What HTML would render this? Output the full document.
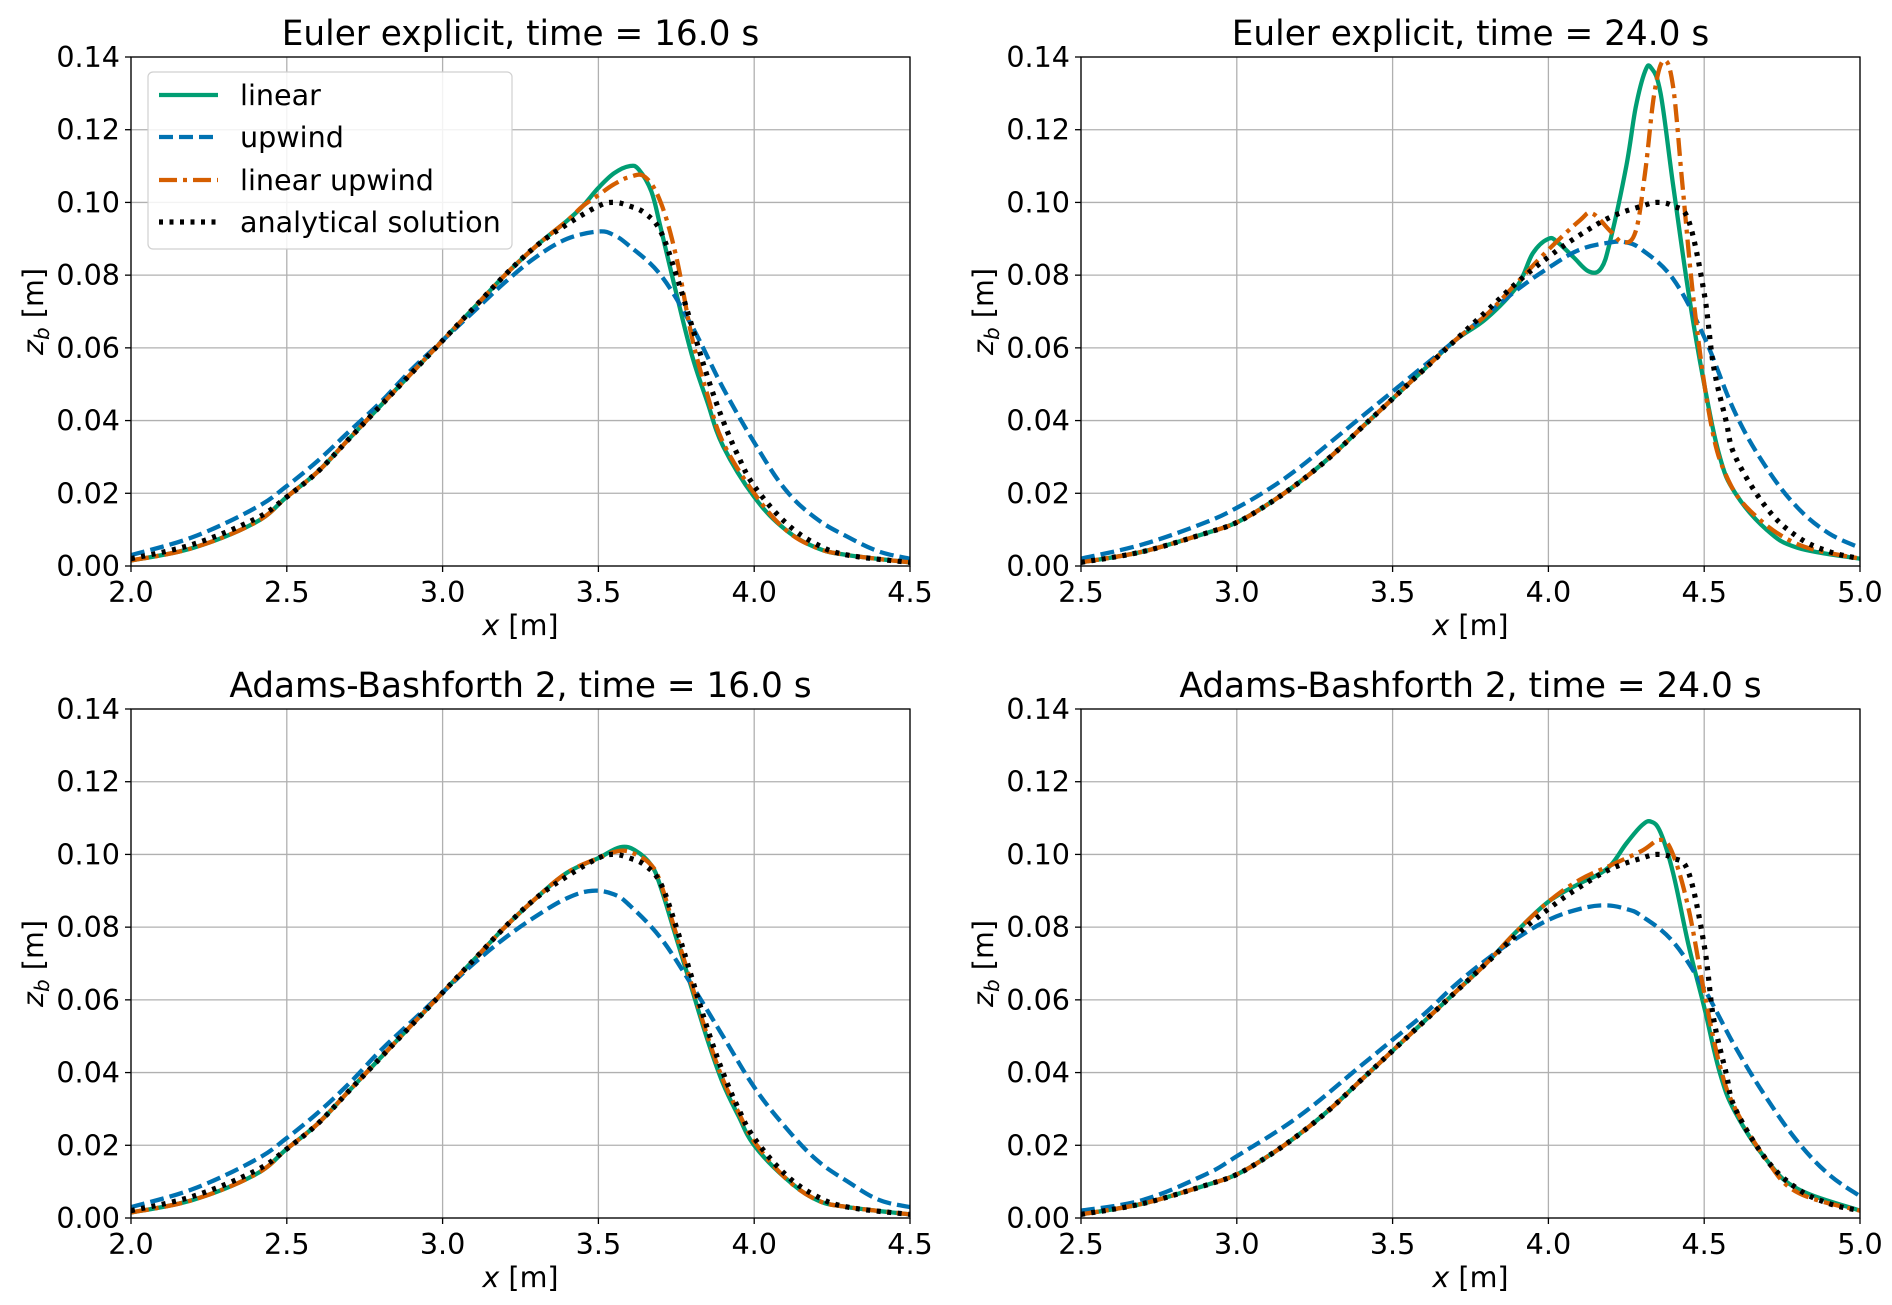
<!DOCTYPE html>
<html><head><meta charset="utf-8"><style>
html,body{margin:0;padding:0;background:#fff;}
svg{display:block;font-family:"DejaVu Sans","Liberation Sans",sans-serif;}
</style></head><body>
<svg id="fig" width="1892" height="1305" viewBox="0 0 1892 1305" xmlns="http://www.w3.org/2000/svg"></svg>
<script>
// ---- data ----
const yTicks = [0, 0.02, 0.04, 0.06, 0.08, 0.10, 0.12, 0.14];
const yTickLabels = ["0.00","0.02","0.04","0.06","0.08","0.10","0.12","0.14"];
const xTicksA = [2.0, 2.5, 3.0, 3.5, 4.0, 4.5];
const xTicksB = [2.5, 3.0, 3.5, 4.0, 4.5, 5.0];
const titles = ["Euler explicit, time = 16.0 s","Euler explicit, time = 24.0 s","Adams-Bashforth 2, time = 16.0 s","Adams-Bashforth 2, time = 24.0 s"];
const seriesNames = ["linear","upwind","linear upwind","analytical solution"];

// Panel 1: Euler t=16
const p1AnaX = [2.0,2.2,2.4,2.5,2.6,2.7,2.8,2.9,3.0,3.1,3.2,3.3,3.4,3.5,3.55,3.6,3.65,3.7,3.75,3.8,3.85,3.9,3.95,4.0,4.1,4.2,4.3,4.5];
const p1AnaY = [0.002,0.006,0.013,0.019,0.026,0.035,0.044,0.053,0.062,0.071,0.080,0.088,0.094,0.099,0.100,0.099,0.097,0.092,0.080,0.066,0.052,0.040,0.030,0.022,0.012,0.006,0.003,0.001];
const p1LinX = [2.0,2.2,2.4,2.5,2.6,2.7,2.8,2.9,3.0,3.1,3.2,3.3,3.4,3.45,3.5,3.55,3.6,3.63,3.67,3.7,3.75,3.8,3.85,3.9,4.0,4.1,4.2,4.3,4.5];
const p1LinY = [0.0015,0.005,0.012,0.019,0.026,0.035,0.044,0.053,0.062,0.071,0.080,0.088,0.095,0.099,0.104,0.108,0.110,0.109,0.103,0.093,0.075,0.058,0.045,0.033,0.019,0.010,0.005,0.003,0.001];
const p1LuX = [2.0,2.2,2.4,2.5,2.6,2.7,2.8,2.9,3.0,3.1,3.2,3.3,3.4,3.45,3.5,3.55,3.6,3.65,3.7,3.75,3.8,3.85,3.9,4.0,4.1,4.2,4.3,4.5];
const p1LuY = [0.0015,0.005,0.012,0.019,0.026,0.035,0.044,0.053,0.062,0.071,0.080,0.088,0.095,0.099,0.102,0.105,0.107,0.107,0.100,0.085,0.063,0.047,0.034,0.020,0.010,0.005,0.003,0.001];
const p1UpX = [2.0,2.2,2.4,2.5,2.6,2.7,2.8,2.9,3.0,3.1,3.2,3.3,3.4,3.5,3.55,3.6,3.7,3.8,3.9,4.0,4.1,4.2,4.3,4.4,4.5];
const p1UpY = [0.003,0.008,0.016,0.022,0.029,0.037,0.045,0.054,0.062,0.070,0.078,0.085,0.090,0.092,0.091,0.088,0.080,0.066,0.049,0.034,0.021,0.013,0.008,0.004,0.002];

// Panel 2: Euler t=24
const p2AnaX = [2.5,2.7,2.9,3.0,3.1,3.2,3.3,3.4,3.5,3.6,3.7,3.8,3.9,4.0,4.1,4.2,4.3,4.35,4.4,4.45,4.5,4.53,4.57,4.6,4.7,4.8,4.9,5.0];
const p2AnaY = [0.001,0.004,0.009,0.012,0.017,0.023,0.030,0.038,0.046,0.054,0.062,0.070,0.078,0.085,0.091,0.096,0.099,0.100,0.099,0.095,0.075,0.055,0.040,0.030,0.016,0.008,0.004,0.002];
const p2LinX = [2.5,2.7,2.9,3.0,3.1,3.2,3.3,3.4,3.5,3.6,3.7,3.8,3.9,3.95,4.0,4.03,4.08,4.13,4.17,4.2,4.25,4.28,4.31,4.33,4.36,4.4,4.45,4.5,4.55,4.6,4.7,4.8,5.0];
const p2LinY = [0.001,0.004,0.009,0.012,0.017,0.023,0.030,0.038,0.046,0.054,0.062,0.068,0.077,0.086,0.090,0.089,0.085,0.081,0.082,0.090,0.110,0.126,0.136,0.137,0.130,0.105,0.075,0.050,0.030,0.020,0.010,0.005,0.002];
const p2LuX = [2.5,2.7,2.9,3.0,3.1,3.2,3.3,3.4,3.5,3.6,3.7,3.8,3.9,4.0,4.1,4.14,4.2,4.24,4.28,4.31,4.34,4.37,4.4,4.43,4.47,4.52,4.57,4.65,4.8,5.0];
const p2LuY = [0.001,0.004,0.009,0.012,0.017,0.023,0.030,0.038,0.046,0.054,0.062,0.069,0.078,0.087,0.095,0.097,0.092,0.089,0.092,0.108,0.130,0.139,0.132,0.105,0.070,0.040,0.025,0.015,0.006,0.002];
const p2UpX = [2.5,2.7,2.9,3.0,3.1,3.2,3.3,3.4,3.5,3.6,3.7,3.8,3.9,4.0,4.1,4.2,4.25,4.3,4.4,4.5,4.6,4.7,4.8,4.9,5.0];
const p2UpY = [0.002,0.006,0.012,0.016,0.021,0.027,0.034,0.041,0.048,0.055,0.062,0.069,0.076,0.082,0.087,0.089,0.089,0.087,0.079,0.063,0.042,0.027,0.016,0.009,0.005];

// Panel 3: AB2 t=16
const p3AnaX = p1AnaX;
const p3AnaY = p1AnaY;
const p3LinX = [2.0,2.2,2.4,2.5,2.6,2.7,2.8,2.9,3.0,3.1,3.2,3.3,3.4,3.5,3.57,3.62,3.67,3.7,3.75,3.8,3.85,3.9,3.95,4.0,4.1,4.2,4.3,4.5];
const p3LinY = [0.0015,0.005,0.012,0.019,0.026,0.035,0.044,0.053,0.062,0.071,0.080,0.088,0.095,0.099,0.102,0.101,0.097,0.091,0.077,0.063,0.049,0.037,0.028,0.020,0.011,0.005,0.003,0.001];
const p3LuX = p3LinX;
const p3LuY = [0.0015,0.005,0.012,0.019,0.026,0.035,0.044,0.053,0.062,0.071,0.080,0.088,0.095,0.099,0.101,0.100,0.097,0.092,0.078,0.064,0.050,0.038,0.029,0.021,0.011,0.005,0.003,0.001];
const p3UpX = [2.0,2.2,2.4,2.5,2.6,2.7,2.8,2.9,3.0,3.1,3.2,3.3,3.4,3.48,3.55,3.6,3.7,3.8,3.9,4.0,4.1,4.2,4.3,4.4,4.5];
const p3UpY = [0.003,0.008,0.016,0.022,0.029,0.037,0.046,0.054,0.062,0.070,0.077,0.083,0.088,0.090,0.089,0.086,0.077,0.064,0.050,0.036,0.025,0.016,0.010,0.005,0.003];

// Panel 4: AB2 t=24
const p4AnaX = p2AnaX;
const p4AnaY = p2AnaY;
const p4LinX = [2.5,2.7,2.9,3.0,3.1,3.2,3.3,3.4,3.5,3.6,3.7,3.8,3.9,4.0,4.1,4.15,4.2,4.25,4.3,4.33,4.36,4.4,4.45,4.5,4.55,4.6,4.7,4.8,5.0];
const p4LinY = [0.001,0.004,0.009,0.012,0.017,0.023,0.030,0.038,0.046,0.054,0.062,0.070,0.079,0.087,0.092,0.094,0.097,0.103,0.108,0.109,0.106,0.095,0.075,0.058,0.040,0.029,0.016,0.008,0.002];
const p4LuX = [2.5,2.7,2.9,3.0,3.1,3.2,3.3,3.4,3.5,3.6,3.7,3.8,3.9,4.0,4.1,4.2,4.3,4.36,4.4,4.45,4.5,4.55,4.6,4.7,4.8,5.0];
const p4LuY = [0.001,0.004,0.009,0.012,0.017,0.023,0.030,0.038,0.046,0.054,0.062,0.070,0.079,0.087,0.093,0.097,0.101,0.104,0.100,0.085,0.062,0.042,0.030,0.016,0.007,0.002];
const p4UpX = [2.5,2.7,2.9,3.0,3.2,3.4,3.5,3.6,3.7,3.8,3.9,4.0,4.1,4.18,4.25,4.3,4.4,4.5,4.6,4.7,4.8,4.9,5.0];
const p4UpY = [0.002,0.005,0.012,0.017,0.028,0.042,0.049,0.056,0.064,0.071,0.077,0.082,0.085,0.086,0.085,0.083,0.076,0.063,0.047,0.033,0.021,0.012,0.006];

// ---- drawing ----
const NS = "http://www.w3.org/2000/svg";
const svg = document.getElementById("fig");
const FS = 28.6;
const colors = ["#009E73","#0072B2","#D55E00","#000000"];
const dashes = ["", "14,6", "18,6,4,6", "4,6.5"];
const widths = [4.3, 4.3, 4.3, 5.2];
const caps = ["round","butt","butt","butt"];

function mk(tag, attrs, parent) {
  const e = document.createElementNS(NS, tag);
  for (const k in attrs) e.setAttribute(k, attrs[k]);
  (parent || svg).appendChild(e);
  return e;
}

function splinePath(P) {
  let d = "M" + P[0][0].toFixed(1) + "," + P[0][1].toFixed(1);
  for (let i = 0; i < P.length - 1; i++) {
    const p0 = P[Math.max(i-1,0)], p1 = P[i], p2 = P[i+1], p3 = P[Math.min(i+2,P.length-1)];
    const t = 0.18;
    const c1x = p1[0] + (p2[0]-p0[0])*t, c1y = p1[1] + (p2[1]-p0[1])*t;
    const c2x = p2[0] - (p3[0]-p1[0])*t, c2y = p2[1] - (p3[1]-p1[1])*t;
    d += " C" + c1x.toFixed(1)+","+c1y.toFixed(1)+" "+c2x.toFixed(1)+","+c2y.toFixed(1)+" "+p2[0].toFixed(1)+","+p2[1].toFixed(1);
  }
  return d;
}

const panels = [
  {L:131, R:910, T:57, B:566, xmin:2.0, xmax:4.5, xt:xTicksA, title:titles[0], legend:true,
   series:[[p1LinX,p1LinY],[p1UpX,p1UpY],[p1LuX,p1LuY],[p1AnaX,p1AnaY]]},
  {L:1081, R:1860, T:57, B:566, xmin:2.5, xmax:5.0, xt:xTicksB, title:titles[1], legend:false,
   series:[[p2LinX,p2LinY],[p2UpX,p2UpY],[p2LuX,p2LuY],[p2AnaX,p2AnaY]]},
  {L:131, R:910, T:709, B:1218, xmin:2.0, xmax:4.5, xt:xTicksA, title:titles[2], legend:false,
   series:[[p3LinX,p3LinY],[p3UpX,p3UpY],[p3LuX,p3LuY],[p3AnaX,p3AnaY]]},
  {L:1081, R:1860, T:709, B:1218, xmin:2.5, xmax:5.0, xt:xTicksB, title:titles[3], legend:false,
   series:[[p4LinX,p4LinY],[p4UpX,p4UpY],[p4LuX,p4LuY],[p4AnaX,p4AnaY]]},
];

panels.forEach((p, pi) => {
  const g = mk("g", {});
  
  
  const sx = v => p.L + (v - p.xmin) / (p.xmax - p.xmin) * (p.R - p.L);
  const sy = v => p.B - (v - 0) / 0.14 * (p.B - p.T);
  const clipId = "clip" + pi;
  const cp = mk("clipPath", {id: clipId}, g);
  mk("rect", {x:p.L, y:p.T, width:p.R-p.L, height:p.B-p.T}, cp);

  p.xt.forEach(v => {
    const l = mk("line", {x1:sx(v), x2:sx(v), y1:p.T, y2:p.B, stroke:"#b0b0b0", "stroke-width":1.3}, g);
    
    
  });
  yTicks.forEach(v => {
    const l = mk("line", {x1:p.L, x2:p.R, y1:sy(v), y2:sy(v), stroke:"#b0b0b0", "stroke-width":1.3}, g);
    
    
  });

  p.series.forEach((s, si) => {
    const [xs, ys] = s;
    const P = xs.map((x, i) => [sx(x), sy(ys[i])]);
    const pl = mk("path", {d: splinePath(P), fill:"none", stroke:colors[si], "stroke-width":widths[si],
      "stroke-dasharray":dashes[si], "stroke-linejoin":"round", "stroke-linecap":caps[si], "clip-path":"url(#"+clipId+")"}, g);
    
    
  });

  const fr = mk("rect", {x:p.L, y:p.T, width:p.R-p.L, height:p.B-p.T, fill:"none", stroke:"#000", "stroke-width":1.3}, g);
  
  

  p.xt.forEach(v => {
    mk("line", {x1:sx(v), x2:sx(v), y1:p.B, y2:p.B+6, stroke:"#000", "stroke-width":1.3}, g);
    const t = mk("text", {x:sx(v), y:p.B+36, "font-size":FS, "text-anchor":"middle", fill:"#000"}, g);
    t.textContent = v.toFixed(1);
    
    
  });
  yTicks.forEach((v, i) => {
    mk("line", {x1:p.L-6, x2:p.L, y1:sy(v), y2:sy(v), stroke:"#000", "stroke-width":1.3}, g);
    const t = mk("text", {x:p.L-11, y:sy(v)+10, "font-size":FS, "text-anchor":"end", fill:"#000"}, g);
    t.textContent = yTickLabels[i];
    
    
  });

  const tt = mk("text", {x:(p.L+p.R)/2, y:p.T-12, "font-size":34.3, "text-anchor":"middle", fill:"#000"}, g);
  tt.textContent = p.title;
  
  

  const xl = mk("text", {x:(p.L+p.R)/2, y:p.B+69, "font-size":FS, "text-anchor":"middle", fill:"#000"}, g);
  xl.innerHTML = '<tspan font-style="italic">x</tspan> [m]';
  
  

  const cy = (p.T + p.B) / 2, cx = p.L - 88;
  const yl = mk("text", {x:cx, y:cy, "font-size":FS, "text-anchor":"middle", fill:"#000", transform:"rotate(-90 "+cx+" "+cy+")"}, g);
  yl.innerHTML = '<tspan font-style="italic">z</tspan><tspan font-style="italic" font-size="20" dy="6">b</tspan><tspan dy="-6"> [m]</tspan>';
  
  

  if (p.legend) {
    const lg = mk("g", {}, g);
    
    
    mk("rect", {x:148, y:72, width:364, height:177, rx:5, fill:"#fff", "fill-opacity":0.85, stroke:"#d0d0d0", "stroke-width":1.2}, lg);
    const rows = [95, 137, 180, 222];
    seriesNames.forEach((n, si) => {
      const e = mk("g", {}, lg);
      
      
      mk("line", {x1:159, x2:218, y1:rows[si], y2:rows[si], stroke:colors[si], "stroke-width":widths[si], "stroke-dasharray":dashes[si]}, e);
      const t = mk("text", {x:240, y:rows[si]+10, "font-size":FS, fill:"#000"}, e);
      t.textContent = n;
    });
  }
});
</script>
</body></html>
